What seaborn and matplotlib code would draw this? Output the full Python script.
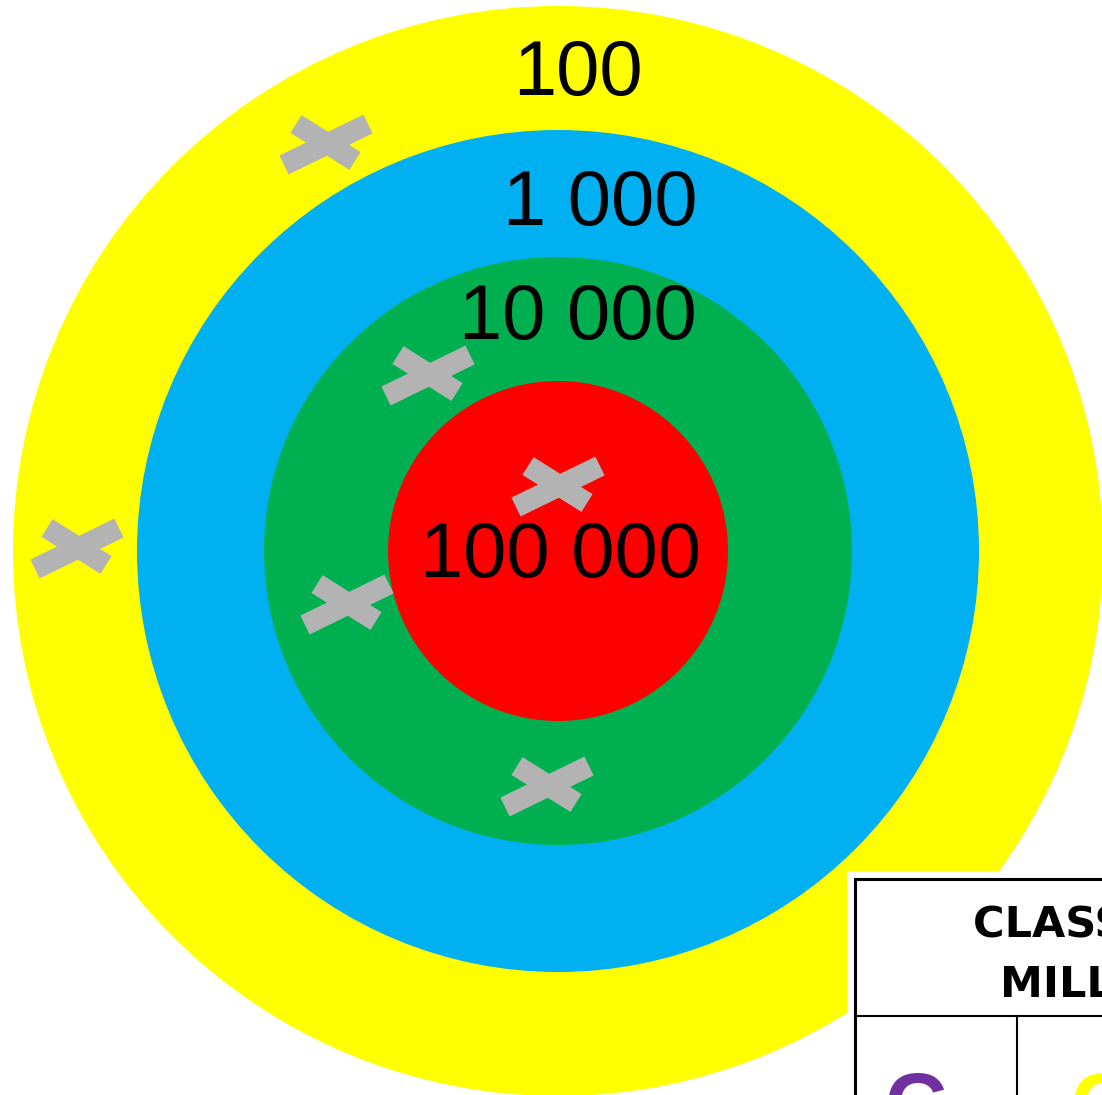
import numpy as np
import pandas as pd
import seaborn as sns
import matplotlib.pyplot as plt
from matplotlib.patches import Circle, Rectangle
from matplotlib.path import Path
from matplotlib.markers import MarkerStyle

# rings of the target, outer to inner (image pixel units)
ring_radius = [545, 421, 294, 170]
ring_color = ['#FFFF00', '#00B0F0', '#00B050', '#FF0000']
ring_label = ['100', '1 000', '10 000', '100 000']
label_x = [578, 600, 578, 560]
label_y = [95, 225, 339, 577]   # baselines
center = (558, 551)

# the grey crosses (darts)
cross_x = [325, 427, 557, 76, 346, 546]
cross_y = [145, 376, 487, 549, 605, 787]

# table in the corner
table_lines = ['CLASSE DES', 'MILLIONS']
table_letters = ['C', 'C']
table_letter_colors = ['#7030A0', '#FFFF00']


def arm(p, q, w):
    p = np.array(p, float)
    q = np.array(q, float)
    d = q - p
    n = np.array([-d[1], d[0]]) / np.hypot(*d) * w / 2
    return [p + n, q + n, q - n, p - n, p + n]


# cross shape (y up), long arm and short arm
verts = arm((-41, -20), (43, 21), 21) + arm((-29, 21), (30, -16), 21)
codes = ([Path.MOVETO] + [Path.LINETO] * 3 + [Path.CLOSEPOLY]) * 2
cross_path = Path(verts, codes)
m = np.max(np.abs(verts))
cross_size = (2 * m * 0.72) ** 2

sns.set_theme(style='white')
plt.rcParams['font.family'] = ['Liberation Sans', 'DejaVu Sans']

fig = plt.figure(figsize=(11.02, 10.95), dpi=100)
ax = fig.add_axes([0, 0, 1, 1])
ax.set_xlim(0, 1102)
ax.set_ylim(1095, 0)
ax.axis('off')

for r, c in zip(ring_radius, ring_color):
    ax.add_patch(Circle(center, r, facecolor=c, edgecolor='none', zorder=1))

for t, x, y in zip(ring_label, label_x, label_y):
    ax.text(x, y, t, fontsize=56, color='black', ha='center', va='baseline', zorder=3)

darts = pd.DataFrame({'x': cross_x, 'y': cross_y})
sns.scatterplot(data=darts, x='x', y='y', ax=ax, marker=MarkerStyle(cross_path),
                s=cross_size, color='#B3B3B3', edgecolor='none', linewidth=0,
                zorder=4, legend=False)
ax.set_xlim(0, 1102)
ax.set_ylim(1095, 0)

# table box
ax.add_patch(Rectangle((847, 871), 300, 300, facecolor='white', edgecolor='none', zorder=5))
ax.add_patch(Rectangle((855, 879), 300, 300, facecolor='white', edgecolor='black', linewidth=2.2, zorder=6))
ax.plot([855, 1102], [1016, 1016], color='black', linewidth=1.5, zorder=7)
ax.plot([1017, 1017], [1016, 1095], color='black', linewidth=1.5, zorder=7)
ax.text(973, 938, table_lines[0], fontsize=31, fontweight='heavy', color='black',
        family='DejaVu Sans', ha='left', va='baseline', zorder=8)
ax.text(1000, 998, table_lines[1], fontsize=31, fontweight='heavy', color='black',
        family='DejaVu Sans', ha='left', va='baseline', zorder=8)
for t, c, x in zip(table_letters, table_letter_colors, [885, 1070]):
    ax.text(x, 1133, t, fontsize=62, fontweight='bold', color=c,
            ha='left', va='baseline', zorder=8)

fig.savefig('out.png', dpi=100)
